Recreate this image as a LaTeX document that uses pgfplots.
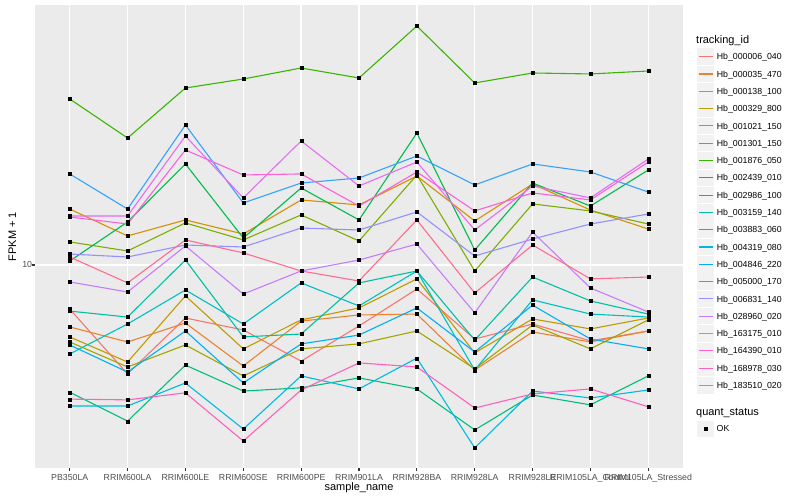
\documentclass[border=0pt]{standalone}
\usepackage{fontspec}
\setmainfont{Liberation Sans}
\usepackage{pgfplots}
\usepackage{pgfplotstable}
\pgfplotsset{compat=1.18}
\definecolor{c1}{HTML}{F8766D}
\definecolor{c2}{HTML}{EA8331}
\definecolor{c3}{HTML}{D89000}
\definecolor{c4}{HTML}{C09B00}
\definecolor{c5}{HTML}{A3A500}
\definecolor{c6}{HTML}{7CAE00}
\definecolor{c7}{HTML}{39B600}
\definecolor{c8}{HTML}{00BB4E}
\definecolor{c9}{HTML}{00BF7D}
\definecolor{c10}{HTML}{00C1A3}
\definecolor{c11}{HTML}{00BFC4}
\definecolor{c12}{HTML}{00BAE0}
\definecolor{c13}{HTML}{00B0F6}
\definecolor{c14}{HTML}{35A2FF}
\definecolor{c15}{HTML}{9590FF}
\definecolor{c16}{HTML}{C77CFF}
\definecolor{c17}{HTML}{E76BF3}
\definecolor{c18}{HTML}{FA62DB}
\definecolor{c19}{HTML}{FF62BC}
\definecolor{c20}{HTML}{FF6C91}
\definecolor{panel}{HTML}{EBEBEB}
\definecolor{keybg}{HTML}{F2F2F2}
\definecolor{tickgray}{HTML}{4D4D4D}
\definecolor{tickmark}{HTML}{333333}

\pgfplotstableread{
x s1 s2 s3 s4 s5 s6 s7 s8 s9 s10 s11 s12 s13 s14 s15 s16 s17 s18 s19 s20
0 7.76 7.00 13.80 6.61 6.42 11.42 26.00 10.23 4.81 7.67 5.99 4.44 6.31 16.89 10.65 9.07 13.26 13.18 4.62 10.47
1 5.34 6.42 11.82 5.72 5.56 10.84 20.77 12.81 4.07 7.41 7.12 4.44 5.40 13.80 10.47 8.56 13.26 12.66 4.60 9.02
2 7.37 7.16 12.96 8.37 6.31 12.74 27.70 17.89 5.62 10.29 8.66 5.07 6.84 22.39 11.22 11.16 21.01 19.39 4.79 11.55
3 6.88 5.59 11.95 6.17 5.28 11.55 29.17 11.68 4.84 6.61 7.12 3.89 5.07 14.29 11.09 8.46 14.71 16.79 3.63 10.72
4 5.75 7.24 14.54 7.29 6.17 13.34 31.08 15.58 4.93 6.72 9.02 5.28 6.35 16.03 12.37 9.66 20.42 16.89 4.87 9.66
5 7.04 7.50 14.13 7.81 6.35 11.48 29.34 12.96 5.22 9.02 7.90 4.90 6.68 16.50 12.23 10.29 15.76 14.04 5.69 9.12
6 8.71 7.54 16.69 9.23 6.84 16.79 39.58 21.38 4.90 9.66 9.66 5.85 7.81 18.73 13.57 11.28 18.09 17.08 5.56 12.96
7 6.53 5.46 12.88 6.03 5.50 9.66 28.51 10.90 3.87 6.49 5.46 3.49 6.06 15.85 10.53 7.59 12.23 13.65 4.39 8.51
8 7.12 6.80 15.94 7.33 7.08 14.21 30.20 16.03 4.73 9.33 8.18 4.84 7.94 17.89 11.61 12.09 15.76 15.14 4.76 11.22
9 6.46 6.42 13.72 6.92 6.17 13.65 30.03 14.04 4.47 8.13 7.54 4.65 6.53 17.08 12.66 8.76 14.71 14.54 4.90 9.23
10 6.84 6.84 12.30 7.37 7.29 12.66 30.55 17.28 5.28 7.54 7.41 4.87 6.17 15.22 13.41 7.63 18.41 18.09 4.42 9.33
}\data

\begin{document}
\begin{tikzpicture}[x=1bp,y=1bp]
\useasboundingbox (0,0) rectangle (800,500);
\begin{axis}[
  at={(35bp,32bp)}, anchor=south west,
  scale only axis, width=648bp, height=463bp,
  xmin=-0.6, xmax=10.6,
  ymode=log, ymin=3.108, ymax=44.668,
  xtick={0,...,10},
  xticklabels={PB350LA,RRIM600LA,RRIM600LE,RRIM600SE,RRIM600PE,RRIM901LA,RRIM928BA,RRIM928LA,RRIM928LE,RRIM105LA\_Control,RRIM105LA\_Stressed},
  ytick={10}, yticklabels={10},
  yminorticks=false, xminorticks=false,
  axis background/.style={fill=panel},
  axis line style={draw=none},
  major grid style={white, line width=1.4bp},
  xmajorgrids, ymajorgrids,
  tick align=outside, major tick length=2.75bp,
  tick style={color=tickmark, line width=1.07bp},
  tick pos=left,
  ticklabel style={font=\fontsize{8.8}{10}\selectfont, text=tickgray},
  xticklabel style={anchor=base, inner sep=0pt, yshift=-9.5bp},
  yticklabel style={anchor=east, inner sep=0pt},
]
\pgfplotsinvokeforeach{1,...,20}{
  \addplot[color=c#1, line width=1.1bp, mark=none] table[x=x, y=s#1] {\data};
}
\pgfplotsinvokeforeach{1,...,20}{
  \addplot[forget plot, only marks, mark=square*, mark size=1.5bp, mark options={fill=black, draw=black, line width=0.2bp}] table[x=x, y=s#1] {\data};
}
\end{axis}
\begin{axis}[
  at={(35bp,32bp)}, anchor=south west,
  scale only axis, width=648bp, height=463bp,
  hide axis, xmin=0, xmax=1, ymin=0, ymax=1,
  legend cell align=left,
  legend style={at={(1.0216,0.1029)}, anchor=north west, draw=none, fill=none,
    inner sep=0pt, outer sep=0pt, row sep=0pt, column sep=2.4bp,
    font=\fontsize{8.8}{10}\selectfont, nodes={inner sep=0pt}},
  legend image code/.code={
    \path[draw=none, fill=none] (0bp,-8.65bp) rectangle (17.3bp,8.65bp);
    \path[draw=none, fill=keybg] (0.4bp,-8.25bp) rectangle (16.9bp,8.25bp);
    \draw[#1] plot coordinates {(8.65bp,0bp)};
  },
]
\addlegendimage{only marks, mark=square*, mark size=1.5bp, mark options={fill=black, draw=black}}
\addlegendentry{OK}
\end{axis}
% tracking_id legend keys
\foreach \i/\name in {1/Hb\_000006\_040,2/Hb\_000035\_470,3/Hb\_000138\_100,4/Hb\_000329\_800,5/Hb\_001021\_150,6/Hb\_001301\_150,7/Hb\_001876\_050,8/Hb\_002439\_010,9/Hb\_002986\_100,10/Hb\_003159\_140,11/Hb\_003883\_060,12/Hb\_004319\_080,13/Hb\_004846\_220,14/Hb\_005000\_170,15/Hb\_006831\_140,16/Hb\_028960\_020,17/Hb\_163175\_010,18/Hb\_164390\_010,19/Hb\_168978\_030,20/Hb\_183510\_020}{
  \pgfmathsetmacro{\yy}{443.3-17.3*(\i-1)}
  \fill[keybg] (697.4,\yy-8.25) rectangle (713.9,\yy+8.25);
  \draw[c\i, line width=1.1bp] (698.8,\yy) -- (712.5,\yy);
  \node[anchor=base west, inner sep=0pt, font=\fontsize{8.8}{10}\selectfont] at (716.7,\yy-3.2) {\name};
}
\node[anchor=base west, font=\fontsize{11}{13}\selectfont, inner sep=0pt] at (696,456) {tracking\_id};
\node[anchor=base west, font=\fontsize{11}{13}\selectfont, inner sep=0pt] at (696,84.3) {quant\_status};
\node[anchor=base, font=\fontsize{11}{13}\selectfont, inner sep=0pt] at (359,9.3) {sample\_name};
\node[rotate=90, anchor=base, font=\fontsize{11}{13}\selectfont, inner sep=0pt] at (16,263.5) {FPKM + 1};
\end{tikzpicture}
\end{document}
